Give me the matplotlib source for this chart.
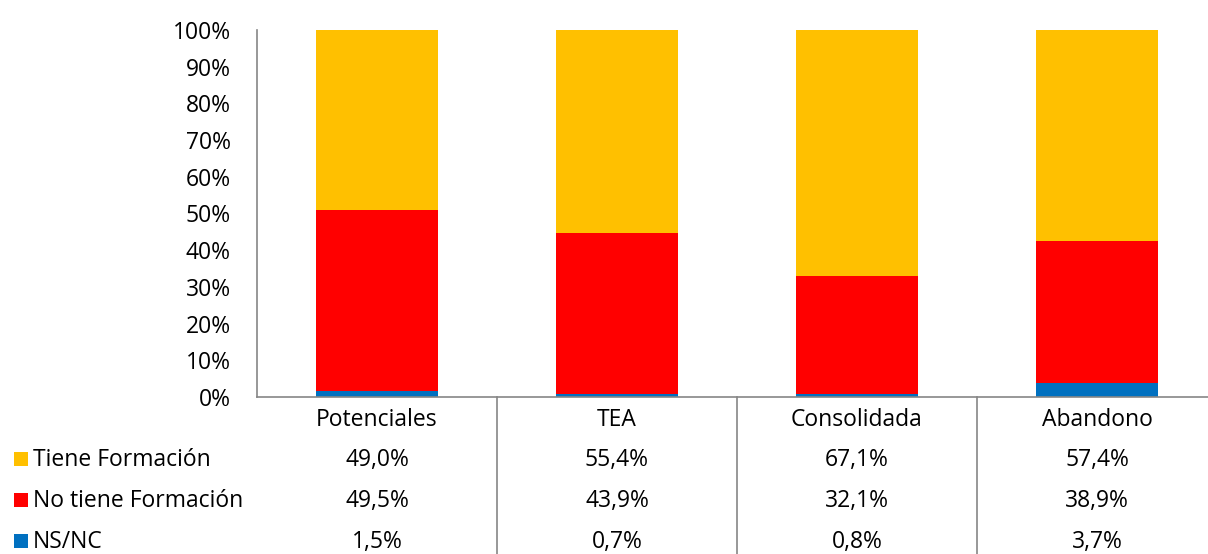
import matplotlib
matplotlib.use("Agg")
import matplotlib.pyplot as plt
from matplotlib.patches import Rectangle
from matplotlib.lines import Line2D
import matplotlib.transforms as mtransforms

plt.rcParams['font.family'] = ['Open Sans', 'DejaVu Sans']

categories = ["Potenciales", "TEA", "Consolidada", "Abandono"]
series_names = ["Tiene Formación", "No tiene Formación", "NS/NC"]
tiene = [49.0, 55.4, 67.1, 57.4]
no_tiene = [49.5, 43.9, 32.1, 38.9]
nsnc = [1.5, 0.7, 0.8, 3.7]
yticks = [0, 10, 20, 30, 40, 50, 60, 70, 80, 90, 100]

colors = {"Tiene Formación": "#FFC000", "No tiene Formación": "#FF0000", "NS/NC": "#0070C0"}
values = {"Tiene Formación": tiene, "No tiene Formación": no_tiene, "NS/NC": nsnc}

FS = 16.5
W, H = 1208, 554
fig = plt.figure(figsize=(W / 100, H / 100), dpi=100)
ax_left, ax_right, ax_top, ax_bottom = 257, 1217, 30, 397
ax = fig.add_axes([ax_left / W, 1 - ax_bottom / H, (ax_right - ax_left) / W, (ax_bottom - ax_top) / H])

x = list(range(len(categories)))
width = 0.51
bottom = [0.0] * len(categories)
for name in ["NS/NC", "No tiene Formación", "Tiene Formación"]:
    vals = values[name]
    ax.bar(x, vals, width, bottom=bottom, color=colors[name], edgecolor='none')
    bottom = [b + v for b, v in zip(bottom, vals)]

ax.set_xlim(-0.5, len(categories) - 0.5)
ax.set_ylim(0, 100)
ax.set_yticks(yticks)
ax.set_yticklabels([f"{t}%" for t in yticks], fontsize=FS, color='black')
ax.tick_params(axis='y', length=0, pad=19)
ax.set_xticks([])
for s in ['top', 'right']:
    ax.spines[s].set_visible(False)
for s in ['left', 'bottom']:
    ax.spines[s].set_color('#868686')
    ax.spines[s].set_linewidth(1.2)

# data table
trans = mtransforms.blended_transform_factory(ax.transData, fig.transFigure)
row_y = {"cat": 420, "Tiene Formación": 460, "No tiene Formación": 501, "NS/NC": 542}
for i, c in enumerate(categories):
    ax.text(i, 1 - row_y["cat"] / H, c, transform=trans, ha='center', va='center', fontsize=FS)
    for name in series_names:
        ax.text(i, 1 - row_y[name] / H, f"{values[name][i]:.1f}%".replace('.', ','),
                transform=trans, ha='center', va='center', fontsize=FS)

for i in range(len(categories) - 1):
    ln = Line2D([i + 0.5, i + 0.5], [1 - ax_bottom / H, 0], transform=trans,
                color='#868686', linewidth=1.2, clip_on=False)
    ax.add_line(ln)

for name in series_names:
    yc = 1 - (row_y[name] - 1) / H
    fig.patches.append(Rectangle((14 / W, yc - 7 / H), 14 / W, 14 / H,
                                 transform=fig.transFigure, facecolor=colors[name],
                                 edgecolor='none'))
    fig.text(33 / W, 1 - row_y[name] / H, name, ha='left', va='center', fontsize=FS)

fig.savefig("out.png", dpi=100)
